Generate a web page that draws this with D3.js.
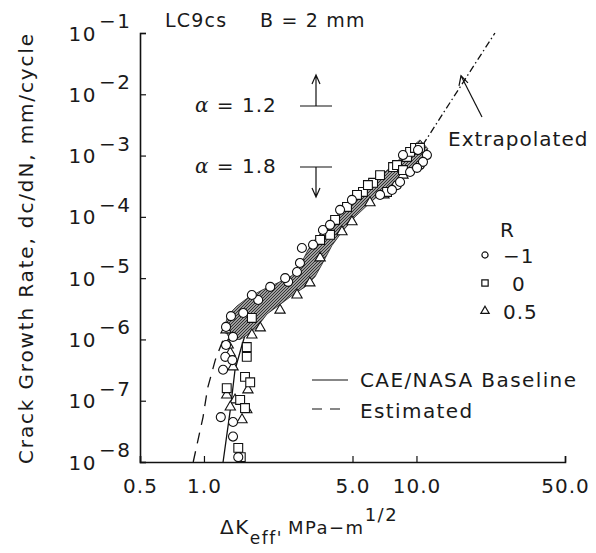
<!DOCTYPE html>
<html lang="en">
<head>
<meta charset="utf-8">
<title>LC9cs crack growth</title>
<script src="https://d3js.org/d3.v7.min.js"></script>
<style>
body { margin: 0; background: #fff; }
text { font-family: "DejaVu Sans", sans-serif; fill: #1a1a1a; }
</style>
</head>
<body>
<div id="container"></div>
<script>
var w = 596, h = 553;

// dense data band: upper-left edge (going up), then lower-right edge (coming back down)
var bandUpper = [[1.24,1.5e-6],[1.30,2.5e-6],[1.43,3.5e-6],[1.61,4.8e-6],[1.88,6.4e-6],[2.23,8.4e-6],
  [2.60,1.1e-5],[2.83,1.6e-5],[3.09,2.9e-5],[3.37,4.5e-5],[3.75,6.6e-5],[4.27,1.1e-4],[4.87,1.7e-4],
  [5.54,2.75e-4],[6.38,4.0e-4],[7.51,6.3e-4],[8.55,9.5e-4],[9.53,1.4e-3],[10.4,1.8e-3]];
var bandLower = [[11.3,1.3e-3],[11.0,8.5e-4],[9.84,6.3e-4],[8.37,4.0e-4],[7.11,2.75e-4],[6.04,1.7e-4],
  [5.14,1.0e-4],[4.46,5.7e-5],[4.00,3.4e-5],[3.63,1.8e-5],[3.33,1.05e-5],[2.99,7.2e-6],[2.65,5.5e-6],
  [2.30,3.8e-6],[1.98,2.6e-6],[1.78,1.6e-6],[1.61,1.2e-6],[1.48,1.0e-6],[1.33,1.0e-6]];

// R = -1 (circles)
var rMinus1 = [[1.37,1.1e-6],[1.53,2.7e-6],[1.80,4.4e-6],[2.49,8.7e-6],[2.74,1.26e-5],[2.83,1.77e-5],
  [2.89,3.1e-5],[3.26,3.5e-5],[3.63,6.1e-5],[1.27,1.6e-6],[1.34,2.4e-6],
  [3.92,7.4e-5],[4.37,1.3e-4],[4.97,1.89e-4],[2.05,7.2e-6],[1.68,5.3e-6],[2.41,1.0e-5],
  [8.64,1.02e-3],[11.2,1.02e-3],[10.39,7.0e-4],[6.74,2.28e-4],[8.10,3.3e-4],
  [10.73,7.9e-4],[9.33,5.4e-4],[8.37,3.7e-4],[7.67,2.75e-4],[10.06,6.3e-4],[10.17,1.23e-3],
  [1.26,5.2e-7],[1.23,3.2e-7],[1.36,4.6e-7],[1.20,5.4e-8],[1.37,4.5e-8],[1.37,2.6e-8],[1.45,1.2e-8],[1.27,8.1e-7]];
// R = 0 (squares)
var rZero = [[6.25,3.6e-4],[7.27,2.55e-4],[7.76,6.5e-4],[9.03,9.5e-4],[9.33,1.15e-3],[9.84,1.33e-3],
  [4.71,1.45e-4],[5.60,2.55e-4],[4.14,8.9e-5],
  [5.91,3.3e-4],[6.74,4.8e-4],[5.25,2.28e-4],[8.10,7.0e-4],[8.64,5.8e-4],[10.39,1.33e-3],
  [3.92,5.1e-5],[3.52,4.2e-5],[1.68,2.24e-6],
  [1.59,7.5e-7],[1.59,5.2e-7],[1.56,2.45e-7],[1.65,2.0e-7],[1.28,1.6e-7],[1.48,1.03e-7],[1.56,7.6e-8],
  [1.45,1.7e-8],[1.49,1.2e-8]];
// R = 0.5 (triangles)
var rHalf = [[1.84,1.54e-6],[3.15,8.35e-6],[2.28,3.0e-6],[4.46,5.7e-5],[6.04,1.7e-4],
  [4.97,8.3e-5],[7.03,2.28e-4],[3.52,2.14e-5],[2.74,5.3e-6],[1.68,1.18e-6],[8.64,4.8e-4],
  [1.33,6.0e-7],[1.37,3.56e-7],[1.61,1.5e-7],[1.28,1.24e-7],[1.40,1.03e-7],[1.59,7.1e-8],[1.33,7.9e-8],
  [1.51,4.9e-8],[1.30,8.1e-7],[1.27,1.43e-6]];

var baseline = [[1.23,1e-8],[1.33,7.1e-8],[1.40,3.2e-7],[1.51,8.1e-7],[1.65,2.2e-6],[2.0,5e-6],
  [2.9,1.2e-5],[3.4,3e-5],[4.2,8e-5],[5.3,2e-4],[7.0,4e-4],[9.0,8e-4],[10.7,1.5e-3]];
var estimated = [[0.89,1e-8],[0.99,5.4e-8],[1.04,1.6e-7],[1.13,4.6e-7],[1.23,9.8e-7],[1.33,1.9e-6]];
var extrapolated = [[10.7,1.49e-3],[23.4,1e-1]];

var xTicks = [0.5, 1, 5, 10, 50];
var yExps = [-8, -7, -6, -5, -4, -3, -2, -1];

var svg = d3.select("#container").append("svg")
  .attr("width", w).attr("height", h)
  .style("background-color", "#ffffff");

var x = d3.scaleLog().domain([0.5, 50]).range([140, 565]);
var y = d3.scaleLog().domain([1e-8, 1e-1]).range([462, 33]);

var line = d3.line().x(function(d){ return x(d[0]); }).y(function(d){ return y(d[1]); });

// texture for the dense band
var defs = svg.append("defs");
var pat = defs.append("pattern").attr("id", "hatch").attr("patternUnits", "userSpaceOnUse")
  .attr("width", 3).attr("height", 3);
pat.append("rect").attr("width", 3).attr("height", 3).attr("fill", "#9c9c9c");
pat.append("path").attr("d", "M0,3 L3,0").attr("stroke", "#333").attr("stroke-width", 1);

// axes
var xAxis = svg.append("g").attr("transform", "translate(0,462)")
  .call(d3.axisBottom(x).tickValues(xTicks).tickSize(-6).tickPadding(17).tickFormat(d3.format(".1f")));
var yAxis = svg.append("g").attr("transform", "translate(140,0)")
  .call(d3.axisLeft(y).tickValues(yExps.map(function(e){ return Math.pow(10, e); })).tickSize(-6).tickFormat(""));
[xAxis, yAxis].forEach(function(g){
  g.select(".domain").attr("stroke", "#111").attr("stroke-width", 1.6);
  g.selectAll(".tick line").attr("stroke", "#111").attr("stroke-width", 1.2);
});
xAxis.selectAll(".tick text").attr("font-family", "DejaVu Sans").attr("font-size", 20)
  .attr("fill", "#1a1a1a").attr("letter-spacing", 1);

yExps.forEach(function(e){
  var yy = y(Math.pow(10, e));
  svg.append("text").attr("x", 97).attr("y", yy + 7.5).attr("text-anchor", "end")
    .attr("font-size", 20).attr("letter-spacing", 1.5).text("10");
  svg.append("text").attr("x", 99).attr("y", yy - 5).attr("font-size", 20)
    .attr("letter-spacing", 1.5).text("\u2212" + Math.abs(e));
});

// curves
svg.append("path").datum(baseline).attr("d", line).attr("fill", "none")
  .attr("stroke", "#111").attr("stroke-width", 1.3);
svg.append("path").datum(estimated).attr("d", line).attr("fill", "none")
  .attr("stroke", "#111").attr("stroke-width", 1.3).attr("stroke-dasharray", "11,8");
svg.append("path").datum(extrapolated).attr("d", line).attr("fill", "none")
  .attr("stroke", "#111").attr("stroke-width", 1.3).attr("stroke-dasharray", "7,3,1.5,3");

// band
svg.append("path").datum(bandUpper.concat(bandLower)).attr("d", function(d){ return line(d) + "Z"; })
  .attr("fill", "url(#hatch)").attr("stroke", "#222").attr("stroke-width", 0.8);

// markers
function drawSeries(data, type, size) {
  svg.append("g").selectAll("path").data(data).enter().append("path")
    .attr("transform", function(d){ return "translate(" + x(d[0]) + "," + y(d[1]) + ")"; })
    .attr("d", d3.symbol().type(type).size(size))
    .attr("fill", "#fff").attr("stroke", "#111").attr("stroke-width", 1.1);
}
drawSeries(rHalf, d3.symbolTriangle, 46);
drawSeries(rZero, d3.symbolSquare, 78);
drawSeries(rMinus1, d3.symbolCircle, 64);

// title
svg.append("text").attr("x", 165).attr("y", 27).attr("font-size", 19).attr("letter-spacing", 1.2).text("LC9cs");
svg.append("text").attr("x", 260).attr("y", 27).attr("font-size", 19).attr("letter-spacing", 1.2).text("B = 2 mm");

// alpha annotations
function alphaLabel(yy, val) {
  var t = svg.append("text").attr("x", 195).attr("y", yy).attr("font-size", 20).attr("letter-spacing", 1);
  t.append("tspan").attr("font-family", "DejaVu Serif").attr("font-style", "italic").text("\u03b1");
  t.append("tspan").text(" = " + val);
}
alphaLabel(112, "1.2");
alphaLabel(173, "1.8");
var ann = svg.append("g").attr("stroke", "#111").attr("stroke-width", 1.2).attr("fill", "none");
ann.append("path").attr("d", "M300,106 H332 M316,106 V75 M312,84 L316,75 L320,84");
ann.append("path").attr("d", "M300,167 H332 M316,167 V197 M312,188 L316,197 L320,188");

// extrapolated label + arrow
var tip = [x(16.2), y(0.02)];
ann.append("path").attr("d", "M482,117 L" + tip[0] + "," + tip[1]);
ann.append("path").attr("d", "M" + (tip[0] - 2) + "," + (tip[1] + 10) + " L" + tip[0] + "," + tip[1] +
  " L" + (tip[0] + 7) + "," + (tip[1] + 7));
svg.append("text").attr("x", 448).attr("y", 146).attr("font-size", 20).attr("letter-spacing", 1).text("Extrapolated");

// R legend
svg.append("text").attr("x", 500).attr("y", 237).attr("font-size", 20).text("R");
var legR = [["\u22121", d3.symbolCircle, 30, 255, 503], ["0", d3.symbolSquare, 40, 283, 512], ["0.5", d3.symbolTriangle, 30, 311, 503]];
legR.forEach(function(r){
  svg.append("path").attr("transform", "translate(485," + r[3] + ")")
    .attr("d", d3.symbol().type(r[1]).size(r[2]))
    .attr("fill", "#fff").attr("stroke", "#111").attr("stroke-width", 1.2);
  svg.append("text").attr("x", r[4]).attr("y", r[3] + 8).attr("font-size", 20).attr("letter-spacing", 1).text(r[0]);
});

// line legend
ann.append("path").attr("d", "M312,380 H348");
ann.append("path").attr("d", "M312,409 H348").attr("stroke-dasharray", "10,8");
svg.append("text").attr("x", 360).attr("y", 387).attr("font-size", 20).attr("letter-spacing", 1.4).text("CAE/NASA Baseline");
svg.append("text").attr("x", 360).attr("y", 418).attr("font-size", 20).attr("letter-spacing", 1.4).text("Estimated");

// axis titles
svg.append("text").attr("transform", "translate(33,249) rotate(-90)").attr("text-anchor", "middle")
  .attr("font-size", 20).attr("textLength", 430).attr("lengthAdjust", "spacing")
  .text("Crack Growth Rate, dc/dN, mm/cycle");
var xl = svg.append("text").attr("x", 220).attr("y", 534).attr("font-size", 20).attr("letter-spacing", 1.5);
xl.append("tspan").text("\u0394K");
xl.append("tspan").attr("dy", 10).attr("font-size", 17).text("eff'");
xl.append("tspan").attr("dy", -10).attr("dx", 5).attr("font-size", 18).text("MPa\u2212m");
xl.append("tspan").attr("dy", -13).attr("font-size", 18).text("1/2");
</script>
</body>
</html>
